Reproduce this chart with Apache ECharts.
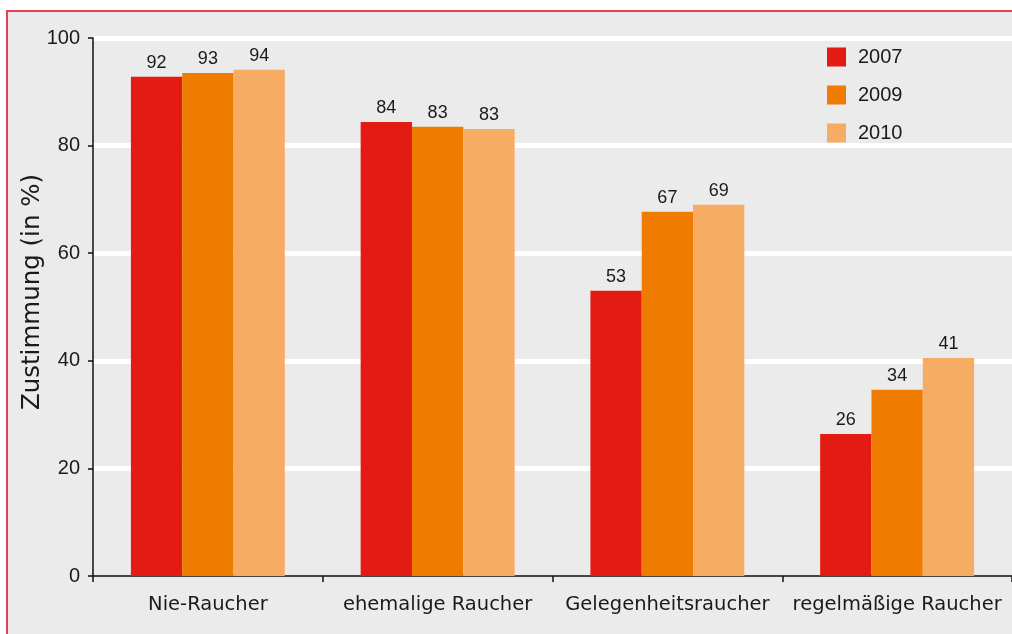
<!DOCTYPE html>
<html>
<head>
<meta charset="utf-8">
<script src="https://cdn.jsdelivr.net/npm/echarts@6/dist/echarts.min.js"></script>
<style>
html,body{margin:0;padding:0;background:#fff;}
#c{width:1012px;height:634px;}
</style>
</head>
<body>
<div id="c"></div>
<script>
const categories = ['Nie-Raucher', 'ehemalige Raucher', 'Gelegenheitsraucher', 'regelmäßige Raucher'];
const seriesNames = ['2007', '2009', '2010'];
const values2007 = [92.8, 84.4, 53.0, 26.4];
const values2009 = [93.5, 83.5, 67.7, 34.6];
const values2010 = [94.1, 83.1, 69.0, 40.5];
const labels2007 = [92, 84, 53, 26];
const labels2009 = [93, 83, 67, 34];
const labels2010 = [94, 83, 69, 41];
const colors = ['#e31b12', '#ef7b00', '#f7ac64'];

const NUMFONT = '"Liberation Sans", Arial, sans-serif';
const WORDFONT = '"DejaVu Sans", sans-serif';
const TXT = '#1a1a1a';

function mkSeries(name, vals, labs, color) {
  return {
    name: name,
    type: 'bar',
    data: vals,
    barGap: '0%',
    barCategoryGap: '33%',
    itemStyle: { color: color },
    label: {
      show: true,
      position: 'top',
      distance: 5,
      color: TXT,
      fontFamily: NUMFONT,
      fontSize: 18,
      formatter: p => String(labs[p.dataIndex])
    }
  };
}

const chart = echarts.init(document.getElementById('c'), null, { renderer: 'canvas' });
chart.setOption({
  backgroundColor: '#ffffff',
  animation: false,
  graphic: [{
    type: 'rect',
    z: -100,
    shape: { x: 7, y: 11, width: 1100, height: 700 },
    style: { fill: '#ebebeb', stroke: '#e2424e', lineWidth: 2 }
  }],
  grid: { left: 93, top: 38, width: 923, height: 538 },
  legend: {
    orient: 'vertical',
    left: 827,
    top: 47,
    padding: 0,
    itemWidth: 19,
    itemHeight: 19,
    itemGap: 18,
    icon: 'rect',
    data: seriesNames,
    textStyle: { color: TXT, fontFamily: NUMFONT, fontSize: 20, padding: [0, 0, 0, 7] }
  },
  xAxis: {
    type: 'category',
    data: categories,
    axisLine: { lineStyle: { color: '#111', width: 1.5 } },
    axisTick: { show: true, length: 6, alignWithLabel: false, lineStyle: { color: '#111', width: 1.5 } },
    axisLabel: { color: TXT, fontFamily: WORDFONT, fontSize: 19.5, margin: 19, interval: 0 },
    splitLine: { show: false }
  },
  yAxis: {
    type: 'value',
    min: 0,
    max: 100,
    interval: 20,
    name: 'Zustimmung (in %)',
    nameLocation: 'middle',
    nameGap: 48,
    nameMoveOverlap: false,
    nameTextStyle: { color: TXT, fontFamily: WORDFONT, fontSize: 24.5, padding: [0, 0, 0, 30] },
    axisLine: { show: true, lineStyle: { color: '#111', width: 1.5 } },
    axisTick: { show: true, length: 5, lineStyle: { color: '#111', width: 1.5 } },
    axisLabel: { color: TXT, fontFamily: NUMFONT, fontSize: 20, margin: 13 },
    splitLine: { show: true, lineStyle: { color: ['rgba(0,0,0,0)', '#ffffff', '#ffffff', '#ffffff', '#ffffff', '#ffffff'], width: 5 } }
  },
  series: [
    mkSeries(seriesNames[0], values2007, labels2007, colors[0]),
    mkSeries(seriesNames[1], values2009, labels2009, colors[1]),
    mkSeries(seriesNames[2], values2010, labels2010, colors[2])
  ]
});
</script>
</body>
</html>
